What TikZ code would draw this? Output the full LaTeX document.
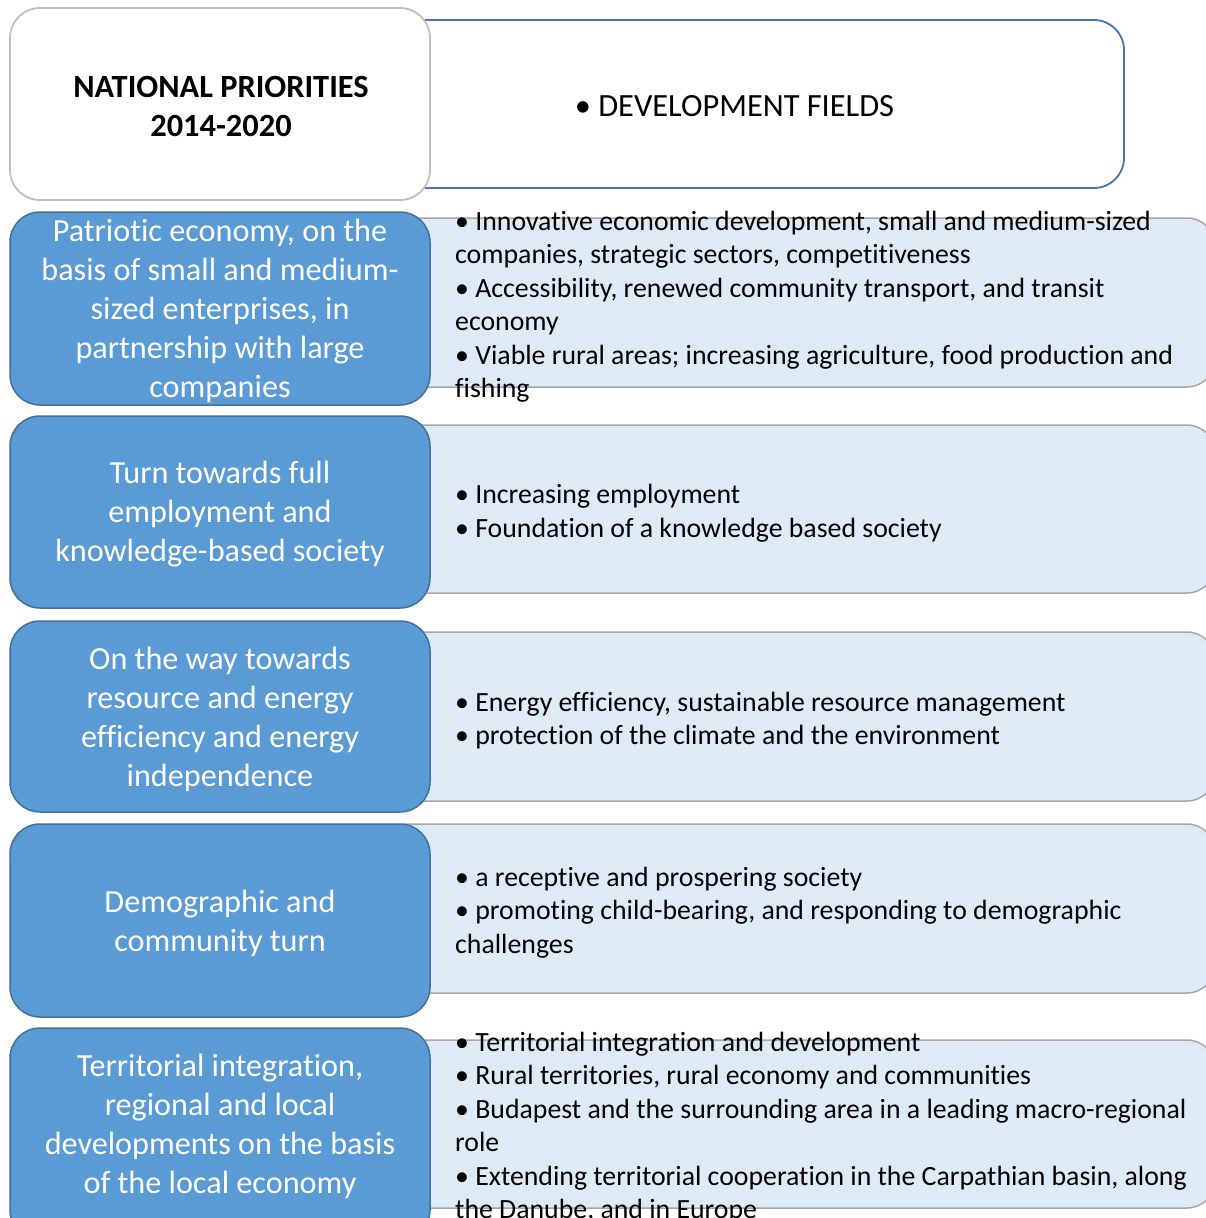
\documentclass[tikz,border=0pt]{standalone}
\usepackage{fontspec}
\setmainfont{Carlito}[Ligatures=NoCommon]
\definecolor{leftfill}{HTML}{5B9BD5}
\definecolor{leftdraw}{HTML}{41719C}
\definecolor{rightfill}{HTML}{DEEBF7}
\definecolor{rightdraw}{HTML}{A6A6A6}
\definecolor{topdraw}{HTML}{BFBFBF}
\definecolor{topblue}{HTML}{4472C4}
\tikzset{
  leftbox/.style={draw=leftdraw, fill=leftfill, line width=1.5pt, rounded corners=30pt},
  rightbox/.style={draw=rightdraw, fill=rightfill, line width=1.5pt, rounded corners=28pt},
  lefttext/.style={text=white, align=center, font=\fontsize{32.2}{39}\selectfont, inner sep=0pt},
  righttext/.style={text=black, align=left, anchor=west, font=\fontsize{27.8}{33.5}\selectfont, inner sep=0pt},
}
\begin{document}
\begin{tikzpicture}[x=1pt,y=-1pt]
\useasboundingbox[fill=white] (0,0) rectangle (1205,1218);
% header
\draw[draw=topblue, line width=1.8pt, fill=white, rounded corners=30pt] (380,20) rectangle (1124,188);
\draw[draw=topdraw, line width=1.8pt, fill=white, rounded corners=30pt] (10,8) rectangle (430,200);
\node[font=\fontsize{32.4}{39}\selectfont\bfseries, align=center, inner sep=0pt] (np) at (221,106) {NATIONAL PRIORITIES\\2014-2020};
\node[font=\fontsize{32.4}{39}\selectfont, inner sep=0pt] (df) at (734.5,106) {• DEVELOPMENT FIELDS};
% right boxes
\draw[rightbox] (380,218) rectangle (1215,387);
\draw[rightbox] (380,425) rectangle (1215,593);
\draw[rightbox] (380,632) rectangle (1215,801);
\draw[rightbox] (380,824) rectangle (1215,993);
\draw[rightbox] (380,1040) rectangle (1215,1208);
% left boxes
\draw[leftbox] (10,212) rectangle (430,405);
\draw[leftbox] (10,416) rectangle (430,608);
\draw[leftbox] (10,621) rectangle (430,812);
\draw[leftbox] (10,824) rectangle (430,1017);
\draw[leftbox] (10,1028) rectangle (430,1240);
% left texts
\node[lefttext] (l1) at (220,310.5) {Patriotic economy, on the\\basis of small and medium-\\sized enterprises, in\\partnership with large\\companies};
\node[lefttext] (l2) at (220,514.5) {Turn towards full\\employment and\\knowledge-based society};
\node[lefttext] (l3) at (220,719.5) {On the way towards\\resource and energy\\efficiency and energy\\independence};
\node[lefttext] (l4) at (220,923.5) {Demographic and\\community turn};
\node[lefttext] (l5) at (220,1126.5) {Territorial integration,\\regional and local\\developments on the basis\\of the local economy};
% right texts
\node[righttext] (r1) at (455,306.5) {• Innovative economic development, small and medium-sized\\companies, strategic sectors, competitiveness\\• Accessibility, renewed community transport, and transit\\economy\\• Viable rural areas; increasing agriculture, food production and\\fishing};
\node[righttext] (r2) at (455,513) {• Increasing employment\\• Foundation of a knowledge based society};
\node[righttext] (r3) at (455,720.5) {• Energy efficiency, sustainable resource management\\• protection of the climate and the environment};
\node[righttext] (r4) at (455,912.5) {• a receptive and prospering society\\• promoting child-bearing, and responding to demographic\\challenges};
\node[righttext] (r5) at (455,1127.5) {• Territorial integration and development\\• Rural territories, rural economy and communities\\• Budapest and the surrounding area in a leading macro-regional\\role\\• Extending territorial cooperation in the Carpathian basin, along\\the Danube, and in Europe};
\end{tikzpicture}
\end{document}
